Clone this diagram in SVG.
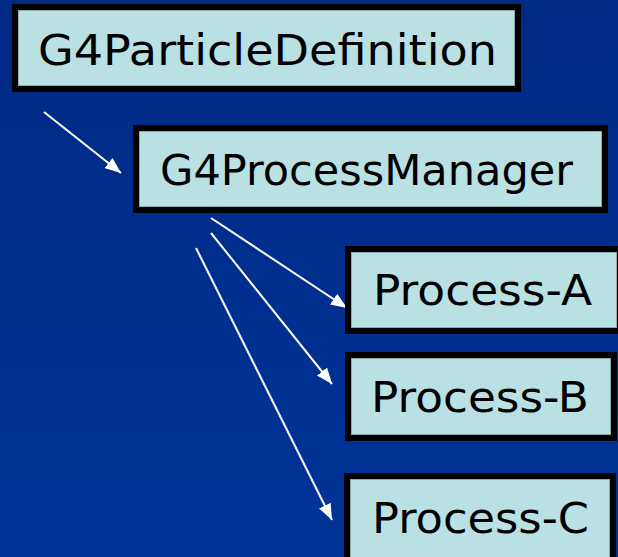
<svg xmlns="http://www.w3.org/2000/svg" width="618" height="557" viewBox="0 0 618 557">
  <defs>
    <linearGradient id="bg" x1="0" y1="0" x2="0" y2="1">
      <stop offset="0" stop-color="#002a84"/>
      <stop offset="1" stop-color="#003399"/>
    </linearGradient>
    <marker id="head" markerUnits="userSpaceOnUse" markerWidth="17" markerHeight="13" refX="16" refY="6.5" orient="auto">
      <path d="M0,0 L16,6.5 L0,13 z" fill="#ffffff"/>
    </marker>
    <style>
      .box { fill: #b9e0e3; stroke: #000000; stroke-width: 6; }
      .edge { fill: none; stroke: #8fa9ad; stroke-width: 1; }
      .label { font-family: "DejaVu Sans", "Liberation Sans", sans-serif; font-size: 43px; fill: #000000; }
      .link { stroke: #ffffff; stroke-width: 2; fill: none; marker-end: url(#head); }
    </style>
  </defs>

  <rect x="0" y="0" width="618" height="557" fill="url(#bg)"/>

  <g id="connectors">
    <line class="link" x1="44" y1="112" x2="121" y2="173"/>
    <line class="link" x1="211" y1="218" x2="347" y2="308"/>
    <line class="link" x1="211" y1="233" x2="332" y2="384"/>
    <line class="link" x1="196" y1="248" x2="332" y2="520"/>
  </g>

  <g id="particle-definition">
    <rect class="box" x="15" y="7" width="503" height="82"/>
    <rect class="edge" x="18.5" y="10.5" width="496" height="75"/>
    <text class="label" x="38" y="65" textLength="459" lengthAdjust="spacingAndGlyphs">G4ParticleDefinition</text>
  </g>

  <g id="process-manager">
    <rect class="box" x="136" y="128" width="469" height="82"/>
    <rect class="edge" x="139.5" y="131.5" width="462" height="75"/>
    <text class="label" x="160" y="185" textLength="413" lengthAdjust="spacingAndGlyphs">G4ProcessManager</text>
  </g>

  <g id="process-a">
    <rect class="box" x="348" y="249" width="272" height="82"/>
    <rect class="edge" x="351.5" y="252.5" width="265" height="75"/>
    <text class="label" x="373" y="305" textLength="219" lengthAdjust="spacingAndGlyphs">Process-A</text>
  </g>

  <g id="process-b">
    <rect class="box" x="348" y="355" width="266" height="83"/>
    <rect class="edge" x="351.5" y="358.5" width="259" height="76"/>
    <text class="label" x="371" y="412" textLength="218" lengthAdjust="spacingAndGlyphs">Process-B</text>
  </g>

  <g id="process-c">
    <rect class="box" x="347" y="476" width="266" height="86"/>
    <rect class="edge" x="350.5" y="479.5" width="259" height="79"/>
    <text class="label" x="372" y="533" textLength="217" lengthAdjust="spacingAndGlyphs">Process-C</text>
  </g>
</svg>
